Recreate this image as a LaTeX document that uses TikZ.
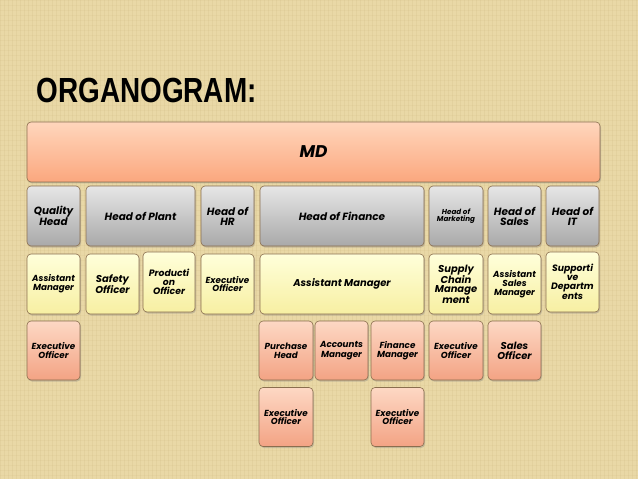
\documentclass[tikz,border=0pt]{standalone}
\usepackage{fontspec}
\setmainfont{Poppins}
\newfontfamily\titlefont{Liberation Sans}
\usetikzlibrary{shadows}

\definecolor{paper}{HTML}{E9D8A6}
\definecolor{paperline}{HTML}{C9B27A}
\definecolor{mdtop}{HTML}{FFD6BC}
\definecolor{mdbot}{HTML}{FBA77E}
\definecolor{greytop}{HTML}{E6E6E6}
\definecolor{greybot}{HTML}{A9A9A9}
\definecolor{yeltop}{HTML}{FFFFDA}
\definecolor{yelbot}{HTML}{F7EFA2}
\definecolor{saltop}{HTML}{FDD8C4}
\definecolor{salbot}{HTML}{F3A384}
\definecolor{boxline}{HTML}{8A6E4E}

\tikzset{
  box/.style={draw=boxline, line width=0.6bp, rounded corners=4bp, align=center,
    inner sep=1bp, font=\bfseries\itshape,
    drop shadow={shadow xshift=1bp, shadow yshift=-1.5bp, opacity=0.35}},
  topbox/.style={box, top color=mdtop, bottom color=mdbot, minimum height=60bp},
  headbox/.style={box, top color=greytop, bottom color=greybot, minimum height=60bp},
  asstbox/.style={box, top color=yeltop, bottom color=yelbot, minimum height=60bp},
  execbox/.style={box, top color=saltop, bottom color=salbot, minimum height=59bp},
}

\begin{document}
\begin{tikzpicture}[x=1bp,y=-1bp]
\useasboundingbox (0,0) rectangle (638,479);
\fill[paper] (0,0) rectangle (638,479);
% paper texture
\foreach \x in {0,4,...,638}
  \draw[paperline, opacity=0.18, line width=0.8bp] (\x,0) -- (\x,479);
\foreach \y in {0,5,...,479}
  \draw[paperline, opacity=0.12, line width=0.8bp] (0,\y) -- (638,\y);

% title
\node[anchor=base west] (title) at (33,103)
  {\titlefont\bfseries\fontsize{28}{28}\selectfont\scalebox{1}[1.25]{ORGANOGRAM:}};

% top
\node[topbox, minimum width=573bp, font=\bfseries\itshape\fontsize{17}{17}\selectfont] (md) at (313.5,152) {MD};

% heads
\node[headbox, minimum width=53bp, font=\bfseries\itshape\fontsize{10.5}{10}\selectfont] (qh) at (53.5,216) {Quality\\Head};
\node[headbox, minimum width=109bp, font=\bfseries\itshape\fontsize{10.5}{10}\selectfont] (hp) at (140.5,216) {Head of Plant};
\node[headbox, minimum width=53bp, font=\bfseries\itshape\fontsize{10.5}{10}\selectfont] (hr) at (227.5,216) {Head of\\HR};
\node[headbox, minimum width=164bp, font=\bfseries\itshape\fontsize{10.5}{10}\selectfont] (hf) at (342,216) {Head of Finance};
\node[headbox, minimum width=54bp, font=\bfseries\itshape\fontsize{7.2}{7.5}\selectfont] (hm) at (456,216) {Head of\\Marketing};
\node[headbox, minimum width=53bp, font=\bfseries\itshape\fontsize{10.5}{10}\selectfont] (hs) at (514.5,216) {Head of\\Sales};
\node[headbox, minimum width=53bp, font=\bfseries\itshape\fontsize{10.5}{10}\selectfont] (hit) at (572.5,216) {Head of\\IT};

% assistants
\node[asstbox, minimum width=53bp, font=\bfseries\itshape\fontsize{8.8}{8.8}\selectfont] (am1) at (53.5,284) {Assistant\\Manager};
\node[asstbox, minimum width=53bp, font=\bfseries\itshape\fontsize{10}{9.5}\selectfont] (so) at (112.5,284) {Safety\\Officer};
\node[asstbox, minimum width=52bp, font=\bfseries\itshape\fontsize{9.3}{8.8}\selectfont] (po) at (169,282) {Producti\\on\\Officer};
\node[asstbox, minimum width=53bp, font=\bfseries\itshape\fontsize{8.8}{8.8}\selectfont] (eo1) at (227.5,284) {Executive\\Officer};
\node[asstbox, minimum width=164bp, font=\bfseries\itshape\fontsize{10}{10}\selectfont] (am2) at (342,284) {Assistant Manager};
\node[asstbox, minimum width=54bp, font=\bfseries\itshape\fontsize{10}{8.8}\selectfont] (scm) at (456,284) {Supply\\Chain\\Manage\\ment};
\node[asstbox, minimum width=53bp, font=\bfseries\itshape\fontsize{8.8}{8.8}\selectfont] (asm) at (514.5,284) {Assistant\\Sales\\Manager};
\node[asstbox, minimum width=53bp, font=\bfseries\itshape\fontsize{9.3}{8.8}\selectfont] (sd) at (572.5,282) {Supporti\\ve\\Departm\\ents};

% officers
\node[execbox, minimum width=53bp, font=\bfseries\itshape\fontsize{8.8}{8.8}\selectfont] (eo2) at (53.5,350.5) {Executive\\Officer};
\node[execbox, minimum width=54bp, font=\bfseries\itshape\fontsize{8.8}{8.8}\selectfont] (ph) at (286,350.5) {Purchase\\Head};
\node[execbox, minimum width=53bp, font=\bfseries\itshape\fontsize{8.8}{10}\selectfont] (acm) at (341.5,350.5) {Accounts\\Manager};
\node[execbox, minimum width=53bp, font=\bfseries\itshape\fontsize{8.8}{8.8}\selectfont] (fm) at (397.5,350.5) {Finance\\Manager};
\node[execbox, minimum width=54bp, font=\bfseries\itshape\fontsize{8.8}{8.8}\selectfont] (eo3) at (456,350.5) {Executive\\Officer};
\node[execbox, minimum width=53bp, font=\bfseries\itshape\fontsize{10}{10}\selectfont] (sof) at (514.5,350.5) {Sales\\Officer};

\node[execbox, minimum width=54bp, font=\bfseries\itshape\fontsize{8.8}{8.8}\selectfont] (eo4) at (286,417) {Executive\\Officer};
\node[execbox, minimum width=53bp, font=\bfseries\itshape\fontsize{8.8}{8.8}\selectfont] (eo5) at (397.5,417) {Executive\\Officer};
\end{tikzpicture}
\end{document}
